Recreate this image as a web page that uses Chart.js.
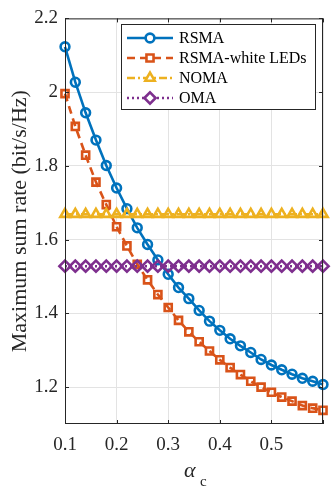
<!DOCTYPE html>
<html>
<head>
<meta charset="utf-8">
<script src="https://cdn.jsdelivr.net/npm/chart.js@4.4.1/dist/chart.umd.min.js"></script>
<style>
  html, body { margin: 0; padding: 0; background: #fff; }
  #wrap { width: 333px; height: 488px; position: relative; }
</style>
</head>
<body>
<div id="wrap"><canvas id="rateChart"></canvas></div>
<script>
// alpha_c values (markers every 0.02)
const alphaC = [0.10, 0.12, 0.14, 0.16, 0.18, 0.20, 0.22, 0.24, 0.26, 0.28, 0.30, 0.32, 0.34,
                0.36, 0.38, 0.40, 0.42, 0.44, 0.46, 0.48, 0.50, 0.52, 0.54, 0.56, 0.58, 0.60];

const rsmaRate = [2.123, 2.027, 1.944, 1.870, 1.801, 1.740, 1.684, 1.632, 1.587, 1.545, 1.506, 1.470, 1.440,
                  1.408, 1.379, 1.354, 1.331, 1.312, 1.294, 1.275, 1.260, 1.247, 1.235, 1.224, 1.216, 1.207];

const whiteLedRate = [1.996, 1.907, 1.829, 1.756, 1.695, 1.635, 1.583, 1.533, 1.491, 1.451, 1.416, 1.381, 1.350,
                      1.323, 1.298, 1.274, 1.253, 1.234, 1.216, 1.200, 1.186, 1.173, 1.162, 1.150, 1.143, 1.137];

const nomaRate = [1.669, 1.669, 1.669, 1.669, 1.669, 1.669, 1.669, 1.669, 1.669, 1.669, 1.669, 1.669, 1.669,
                  1.669, 1.669, 1.669, 1.669, 1.669, 1.669, 1.669, 1.669, 1.669, 1.669, 1.669, 1.669, 1.669];

const omaRate = [1.528, 1.528, 1.528, 1.528, 1.528, 1.528, 1.528, 1.528, 1.528, 1.528, 1.528, 1.528, 1.528,
                 1.528, 1.528, 1.528, 1.528, 1.528, 1.528, 1.528, 1.528, 1.528, 1.528, 1.528, 1.528, 1.528];

const seriesNames = ['RSMA', 'RSMA-white LEDs', 'NOMA', 'OMA'];
const xTicks = [0.1, 0.2, 0.3, 0.4, 0.5, 0.6];
const yTicks = [1.2, 1.4, 1.6, 1.8, 2.0, 2.2];

const SERIF = '"Liberation Serif", "Times New Roman", serif';
const AXIS_COLOR = '#262626';

const toPoints = ys => ys.map((y, i) => ({ x: alphaC[i], y }));

const styles = [
    { color: '#0072BD', dash: [], pointStyle: 'circle', radius: 4.4 },
    { color: '#D95319', dash: [8, 5], pointStyle: 'rect', radius: 5 },
    { color: '#EDB120', dash: [8, 3, 2, 3], pointStyle: 'triangle', radius: 5.4 },
    { color: '#7E2F8E', dash: [2, 3], pointStyle: 'rectRot', radius: 5.6 }
];
const seriesData = [rsmaRate, whiteLedRate, nomaRate, omaRate];

const datasets = seriesData.map((ys, i) => ({
    label: seriesNames[i],
    data: toPoints(ys),
    borderColor: styles[i].color,
    backgroundColor: styles[i].color,
    borderWidth: 2.6,
    borderDash: styles[i].dash,
    pointStyle: styles[i].pointStyle,
    pointRadius: styles[i].radius,
    pointBorderWidth: 2.6,
    pointBorderColor: styles[i].color,
    pointBackgroundColor: 'rgba(255,255,255,0)',
    tension: 0,
    clip: false,
    order: 4 - i
}));

// box + inward tick marks like MATLAB
const boxPlugin = {
    id: 'box',
    afterDatasetsDraw(chart) {
        const { ctx, chartArea: a, scales } = chart;
        ctx.save();
        ctx.strokeStyle = AXIS_COLOR;
        ctx.lineWidth = 1;
        ctx.strokeRect(a.left + 0.5, a.top + 0.5, a.right - a.left - 1, a.bottom - a.top - 1);
        ctx.beginPath();
        const tl = 4;
        xTicks.forEach(v => {
            const px = Math.round(scales.x.getPixelForValue(v)) + 0.5;
            ctx.moveTo(px, a.bottom); ctx.lineTo(px, a.bottom - tl);
            ctx.moveTo(px, a.top); ctx.lineTo(px, a.top + tl);
        });
        yTicks.forEach(v => {
            const py = Math.round(scales.y.getPixelForValue(v)) + 0.5;
            ctx.moveTo(a.left, py); ctx.lineTo(a.left + tl, py);
            ctx.moveTo(a.right, py); ctx.lineTo(a.right - tl, py);
        });
        ctx.stroke();
        ctx.restore();
    }
};

// legend box with line + marker samples
const legendPlugin = {
    id: 'matlabLegend',
    afterDraw(chart) {
        const { ctx } = chart;
        const bx = 121, by = 24, bw = 194, bh = 85;
        ctx.save();
        ctx.fillStyle = '#fff';
        ctx.fillRect(bx, by, bw, bh);
        ctx.strokeStyle = AXIS_COLOR;
        ctx.lineWidth = 1;
        ctx.strokeRect(bx + 0.5, by + 0.5, bw, bh);
        const rows = [38, 58, 78, 98];
        seriesNames.forEach((name, i) => {
            const s = styles[i];
            const y = rows[i];
            ctx.strokeStyle = s.color;
            ctx.lineWidth = 2.6;
            ctx.setLineDash(s.dash);
            ctx.beginPath();
            ctx.moveTo(127, y);
            ctx.lineTo(173, y);
            ctx.stroke();
            ctx.setLineDash([]);
            ctx.fillStyle = '#fff';
            Chart.helpers.drawPoint(ctx, {
                pointStyle: s.pointStyle, radius: s.radius, rotation: 0, borderWidth: 2.6
            }, 150, y);
            ctx.fillStyle = '#000';
            ctx.font = '16px ' + SERIF;
            ctx.textBaseline = 'middle';
            ctx.textAlign = 'left';
            ctx.fillText(name, 179, y + 1);
        });
        ctx.restore();

        // x axis title: alpha with subscript c
        ctx.save();
        ctx.fillStyle = AXIS_COLOR;
        ctx.textBaseline = 'alphabetic';
        ctx.font = 'italic 22px ' + SERIF;
        ctx.textAlign = 'left';
        ctx.fillText('\u03B1', 184, 477);
        ctx.font = '15px ' + SERIF;
        ctx.fillText('c', 200, 486);
        ctx.restore();
    }
};

new Chart(document.getElementById('rateChart'), {
    type: 'line',
    data: { datasets },
    options: {
        responsive: true,
        maintainAspectRatio: false,
        animation: false,
        layout: { padding: { top: 14, right: 7, left: 0, bottom: 0 } },
        plugins: {
            legend: { display: false },
            tooltip: { enabled: false }
        },
        scales: {
            x: {
                type: 'linear',
                min: 0.1,
                max: 0.6,
                afterBuildTicks: s => { s.ticks = xTicks.map(v => ({ value: v })); },
                afterFit: s => { s.height = 64; },
                grid: { color: '#e3e3e3', drawTicks: false },
                border: { display: false },
                ticks: {
                    padding: 10,
                    color: AXIS_COLOR,
                    maxRotation: 0,
                    autoSkip: false,
                    font: { family: SERIF, size: 19 },
                    callback: v => (v > 0.55 ? '' : v.toFixed(1))
                }
            },
            y: {
                min: 1.1,
                max: 2.2,
                afterBuildTicks: s => { s.ticks = yTicks.map(v => ({ value: v })); },
                afterFit: s => { s.width = 65; },
                grid: { color: '#e3e3e3', drawTicks: false },
                border: { display: false },
                ticks: {
                    padding: 7,
                    color: AXIS_COLOR,
                    autoSkip: false,
                    font: { family: SERIF, size: 19 },
                    callback: v => String(+v.toFixed(1))
                },
                title: {
                    display: true,
                    text: 'Maximum sum rate (bit/s/Hz)',
                    color: AXIS_COLOR,
                    font: { family: SERIF, size: 22 },
                    padding: { top: 7, bottom: 0 }
                }
            }
        }
    },
    plugins: [boxPlugin, legendPlugin]
});
</script>
</body>
</html>
